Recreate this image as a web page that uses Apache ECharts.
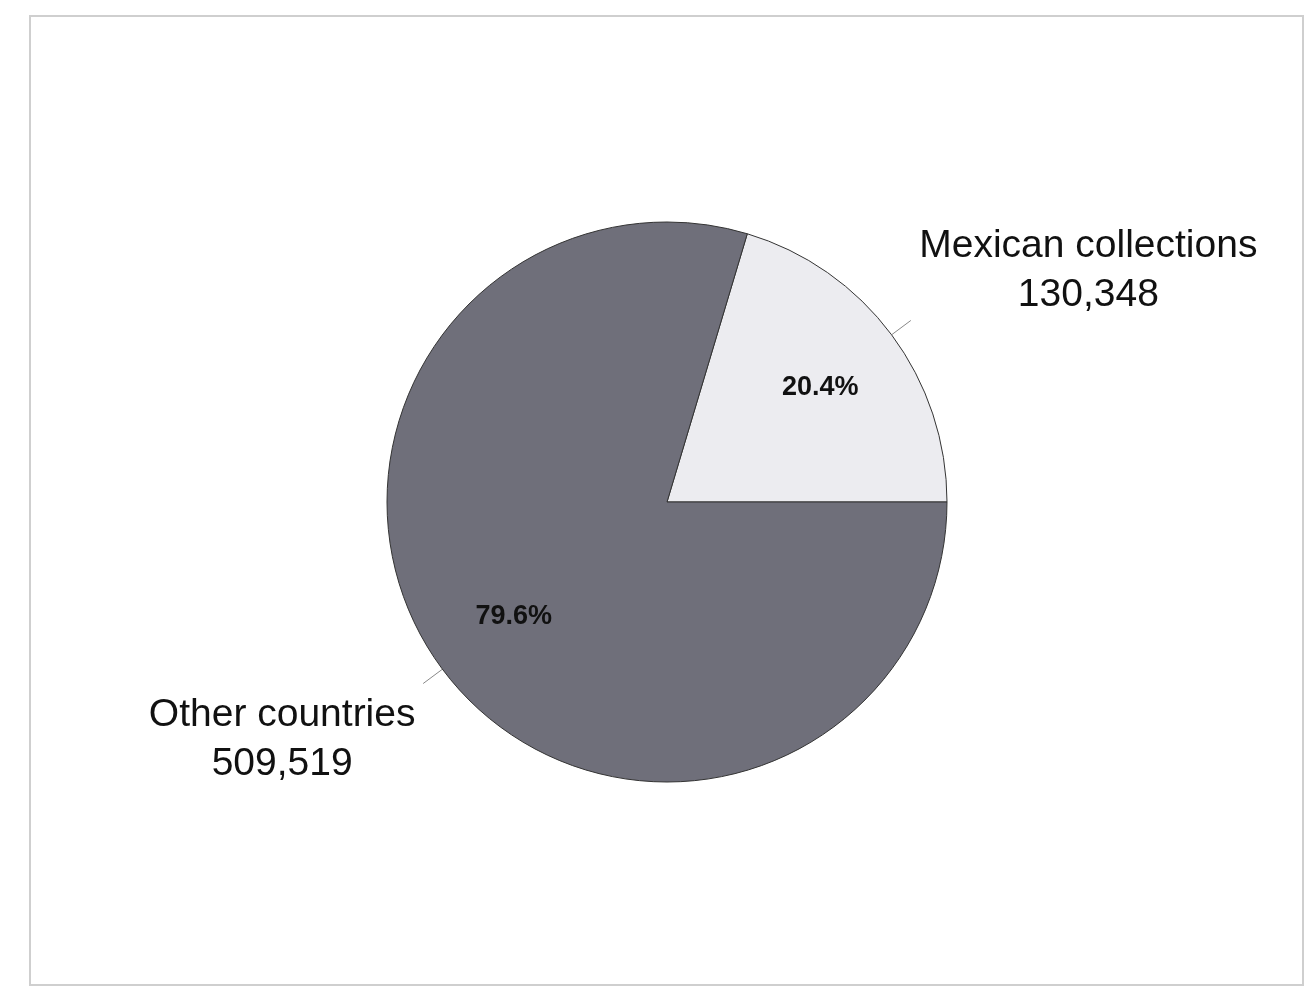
<!DOCTYPE html>
<html><head><meta charset="utf-8">
<script src="https://cdn.jsdelivr.net/npm/echarts@6/dist/echarts.min.js"></script>
<style>html,body{margin:0;padding:0;background:#fff}#c{width:1314px;height:990px}</style>
</head><body><div id="c"></div>
<script>
const categories = ['Mexican collections', 'Other countries'];
const values = [130348, 509519];
const sliceColors = ['#ececf0', '#6f6f7a'];

const total = values.reduce((a, b) => a + b, 0);
const startAngle = values[0] / total * 360;
const fmt = v => v.toLocaleString('en-US');

const chart = echarts.init(document.getElementById('c'));
chart.setOption({
  animation: false,
  graphic: [{
    type: 'rect', shape: { x: 30, y: 16, width: 1273, height: 969 },
    style: { fill: 'none', stroke: '#cfcfcf', lineWidth: 2 }, silent: true
  }],
  series: [{
    type: 'pie',
    center: [667, 502],
    radius: [0, 280],
    startAngle: startAngle,
    clockwise: true,
    silent: true,
    itemStyle: { borderColor: '#333', borderWidth: 1 },
    labelLine: { show: true, length: 24, length2: 0, lineStyle: { color: '#888', width: 1 } },
    data: categories.map((c, i) => ({
      name: c, value: values[i],
      itemStyle: { color: sliceColors[i] },
      label: {
        show: true, position: 'outside',
        formatter: '{a|{b}}\n{a|' + fmt(values[i]) + '}',
        fontFamily: 'Liberation Sans, Arial, sans-serif',
        padding: i === 0 ? [0, 0, 100, 0] : [112, 0, 0, 0],
        rich: { a: { fontSize: 39, lineHeight: 49, color: '#111', width: i === 0 ? 345 : 272, align: 'center', fontFamily: 'Liberation Sans, Arial, sans-serif' } }
      }
    }))
  }, {
    type: 'pie',
    center: [667, 502],
    radius: [180, 196],
    startAngle: startAngle,
    clockwise: true,
    silent: true,
    itemStyle: { color: 'rgba(0,0,0,0)' },
    label: {
      show: true, position: 'inside',
      formatter: p => p.percent.toFixed(1) + '%',
      fontSize: 27, fontWeight: 'bold', color: '#111',
      fontFamily: 'Liberation Sans, Arial, sans-serif'
    },
    labelLine: { show: false },
    data: categories.map((c, i) => ({ name: c, value: values[i] }))
  }]
});
</script></body></html>
